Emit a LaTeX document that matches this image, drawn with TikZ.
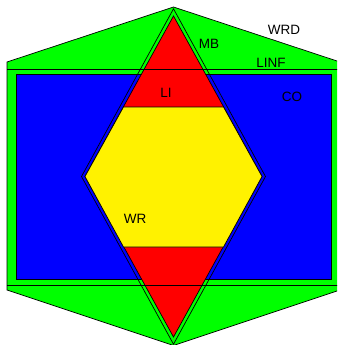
\documentclass[tikz,border=0pt]{standalone}
\usepackage{fontspec}
\setmainfont{Liberation Sans}
\begin{document}
\begin{tikzpicture}[x=1pt,y=-1pt,line width=0.7pt,
  lbl/.style={inner sep=0pt,font=\fontsize{13.5}{16}\selectfont}]
\useasboundingbox (0,0) rectangle (337,345);
\clip (0,0) rectangle (337,345);
\fill[white] (0,0) rectangle (337,345);
% outer green shape
\draw[fill=green] (173.5,7) -- (340,62) -- (340,290) -- (173.5,345.5) -- (7,290) -- (7,62) -- cycle;
% blue rectangle
\draw[fill=blue] (16,74.5) rectangle (331,279);
% red rhombus
\draw[fill=red] (173.5,16) -- (85,176.5) -- (173.5,337) -- (262,176.5) -- cycle;
% yellow hexagon
\draw[fill=yellow] (123.5,107) -- (223.5,107) -- (262,176.5) -- (223.5,247) -- (123.5,247) -- (85,176.5) -- cycle;
% outer rhombus outline
\draw (173.5,8.8) -- (81.5,176.5) -- (173.5,344.2) -- (265.5,176.5) -- cycle;
% horizontal lines
\draw (7,69.5) -- (340,69.5);
\draw (7,285) -- (340,285);
% labels
\node[lbl] (wrd) at (284,30) {WRD};
\node[lbl] (mb) at (209,44) {MB};
\node[lbl] (linf) at (271,63) {LINF};
\node[lbl] (li) at (166,93) {LI};
\node[lbl] (co) at (292,97) {CO};
\node[lbl] (wr) at (135,219) {WR};
\end{tikzpicture}
\end{document}
